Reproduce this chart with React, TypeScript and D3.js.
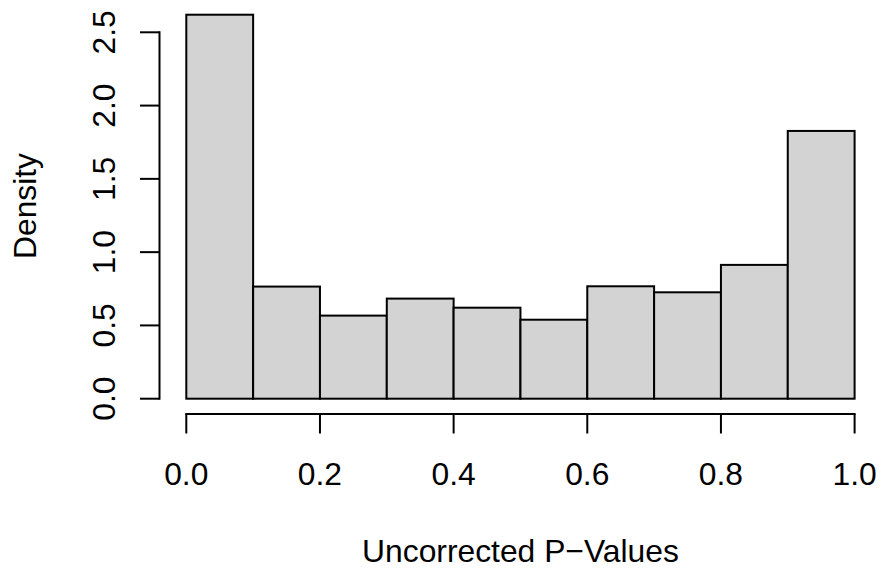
import React from "react";
import * as d3 from "d3";

const breaks = [0, 0.1, 0.2, 0.3, 0.4, 0.5, 0.6, 0.7, 0.8, 0.9, 1.0];
const density = [2.62, 0.765, 0.567, 0.683, 0.621, 0.539, 0.767, 0.726, 0.913, 1.827];
const xTicks = [0, 0.2, 0.4, 0.6, 0.8, 1.0];
const yTicks = [0, 0.5, 1.0, 1.5, 2.0, 2.5];
const xLabel = "Uncorrected P\u2212Values";
const yLabel = "Density";

const W = 883;
const H = 570;
const FONT = "'Liberation Sans', Arial, Helvetica, sans-serif";
const FS = 31.8;

export default function App() {
  const x = d3.scaleLinear().domain([0, 1]).range([186.3, 854.6]);
  const y = d3.scaleLinear().domain([0, 2.5]).range([398.7, 32.3]);
  const axisY = 414;
  const axisX = 159.5;
  const tick = 19.5;
  const bins = density.map((d, i) => ({ x0: breaks[i], x1: breaks[i + 1], d }));

  return (
    <svg
      width={W}
      height={H}
      style={{ position: "absolute", left: 0, top: 0, background: "#fff" }}
      fontFamily={FONT}
    >
      <rect x={0} y={0} width={W} height={H} fill="#fff" />
      {bins.map((b, i) => (
        <rect
          key={i}
          x={x(b.x0)}
          y={y(b.d)}
          width={x(b.x1) - x(b.x0)}
          height={y(0) - y(b.d)}
          fill="#D3D3D3"
          stroke="#000"
          strokeWidth={2}
        />
      ))}
      <line x1={x(xTicks[0])} x2={x(xTicks[xTicks.length - 1])} y1={axisY} y2={axisY} stroke="#000" strokeWidth={2} strokeLinecap="square" />
      {xTicks.map((t) => (
        <g key={t}>
          <line x1={x(t)} x2={x(t)} y1={axisY} y2={axisY + tick} stroke="#000" strokeWidth={2} />
          <text x={x(t)} y={484.5} textAnchor="middle" fontSize={FS} fill="#000">
            {d3.format(".1f")(t)}
          </text>
        </g>
      ))}
      <line x1={axisX} x2={axisX} y1={y(yTicks[0])} y2={y(yTicks[yTicks.length - 1])} stroke="#000" strokeWidth={2} strokeLinecap="square" />
      {yTicks.map((t) => (
        <g key={t}>
          <line x1={axisX - tick} x2={axisX} y1={y(t)} y2={y(t)} stroke="#000" strokeWidth={2} />
          <text
            transform={`translate(${114.5},${y(t)}) rotate(-90)`}
            textAnchor="middle"
            fontSize={FS}
            fill="#000"
          >
            {d3.format(".1f")(t)}
          </text>
        </g>
      ))}
      <text x={(x(0) + x(1)) / 2} y={561.5} textAnchor="middle" fontSize={FS} fill="#000">
        {xLabel}
      </text>
      <text
        transform={`translate(36,206) rotate(-90)`}
        textAnchor="middle"
        fontSize={FS}
        fill="#000"
      >
        {yLabel}
      </text>
    </svg>
  );
}
